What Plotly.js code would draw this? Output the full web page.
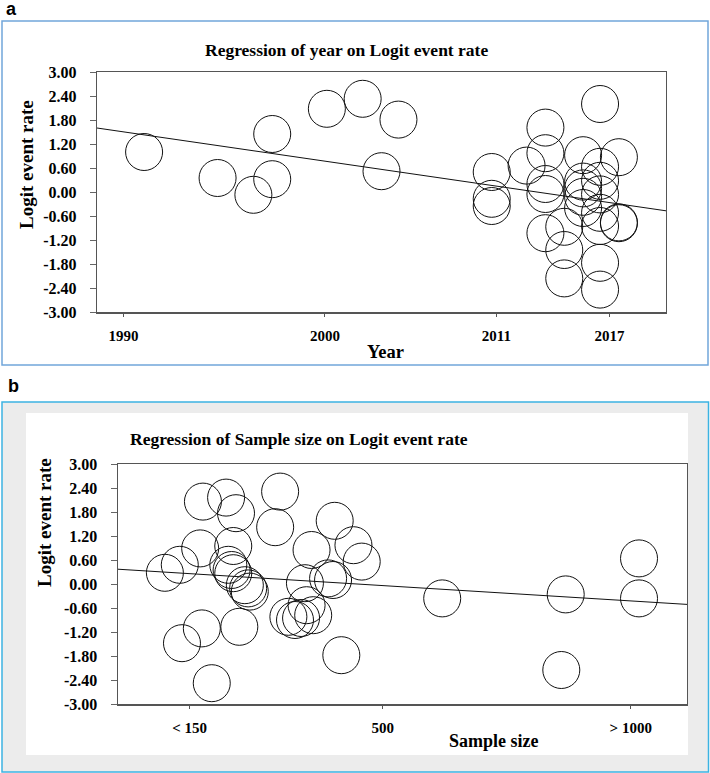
<!DOCTYPE html>
<html>
<head>
<meta charset="utf-8">
<script src="https://cdn.plot.ly/plotly-3.0.1.min.js"></script>
<style>html,body{margin:0;padding:0;background:#fff;}#chart{width:710px;height:773px;}</style>
</head>
<body>
<div id="chart"></div>
<script>
// ---- Panel a: year vs logit event rate ----
var yearA = [1992.3, 1996.2, 1998.1, 1999.1, 1999.1, 2002.0, 2003.9, 2005.8, 2004.9,
  2010.75, 2010.75, 2010.75,
  2012.6,
  2013.6, 2013.6, 2013.6, 2013.6, 2013.6,
  2014.6, 2014.6, 2014.6,
  2015.6, 2015.6, 2015.6, 2015.6, 2015.6,
  2016.5, 2016.5, 2016.5, 2016.5, 2016.5, 2016.5, 2016.5, 2016.5,
  2017.5, 2017.5, 2017.5];
var logitA = [1.0, 0.35, -0.07, 1.45, 0.32, 2.08, 2.33, 1.81, 0.52,
  0.5, -0.17, -0.35,
  0.66,
  1.61, 0.97, 0.2, -0.05, -1.03,
  -0.87, -1.45, -2.16,
  0.92, 0.26, 0.09, -0.12, -0.4,
  2.2, 0.63, 0.28, -0.06, -0.52, -0.85, -1.77, -2.44,
  0.87, -0.78, -0.76];
var regAx = [1989.8, 2020.0];
var regAy = [1.60, -0.47];
var xTickValsA = [1991.2, 2001.9, 2011, 2017];
var xTickTextA = ['1990', '2000', '2011', '2017'];

// ---- Panel b: sample size vs logit event rate ----
var sizeB = [105, 132, 169, 174, 216, 234, 229, 220, 226, 229, 250, 256, 259, 314, 305, 371, 413, 447, 462,
  359, 401, 410, 362, 329, 341, 352, 374, 240, 172, 136, 190, 425, 608, 832, 965, 965, 824];
var logitB = [0.28, 0.48, 0.89, 2.06, 2.16, 1.77, 0.95, 0.48, 0.35, 0.27, -0.03, -0.11, -0.19, 2.31, 1.42, 0.85, 1.58, 0.97, 0.56,
  0.02, 0.14, 0.1, -0.53, -0.82, -0.9, -0.85, -0.78, -1.07, -1.11, -1.48, -2.48, -1.78, -0.36, -0.26, 0.64, -0.36, -2.15];
var regBx = [19.4, 1052];
var regBy = [0.37, -0.51];
var xTickValsB = [150, 500, 950];
var xTickTextB = ['< 150', '500', '> 1000'];

// ---- shared y ticks ----
var yTickVals = [3, 2.4, 1.8, 1.2, 0.6, 0, -0.6, -1.2, -1.8, -2.4, -3];
var yTickText = ['3.00', '2.40', '1.80', '1.20', '0.60', '0.00', '-0.60', '-1.20', '-1.80', '-2.40', '-3.00'];

var W = 710, H = 773;
function px(x) { return x / W; }
function py(y) { return 1 - y / H; }

var serif = 'Liberation Serif, Times New Roman, serif';
var markerStyle = {symbol: 'circle-open', size: 37, color: '#111', line: {width: 1}};

var traces = [
  {x: yearA, y: logitA, type: 'scatter', mode: 'markers', marker: markerStyle, xaxis: 'x', yaxis: 'y', hoverinfo: 'x+y'},
  {x: regAx, y: regAy, type: 'scatter', mode: 'lines', line: {color: '#111', width: 1}, xaxis: 'x', yaxis: 'y'},
  {x: sizeB, y: logitB, type: 'scatter', mode: 'markers', marker: markerStyle, xaxis: 'x2', yaxis: 'y2', hoverinfo: 'x+y'},
  {x: regBx, y: regBy, type: 'scatter', mode: 'lines', line: {color: '#111', width: 1}, xaxis: 'x2', yaxis: 'y2'}
];

function xAxisCfg(domain, range, tv, tt, anchor) {
  return {domain: domain, range: range, anchor: anchor, tickmode: 'array', tickvals: tv, ticktext: tt,
    ticks: 'outside', ticklen: 3, tickcolor: '#555', showgrid: false, zeroline: false,
    showline: true, mirror: true, linecolor: '#555', linewidth: 1.5, ticklabelstandoff: 6,
    tickfont: {family: serif, size: 15, color: '#000', weight: 'bold'}, fixedrange: true};
}
function yAxisCfg(domain, anchor) {
  return {domain: domain, range: [-3, 3], anchor: anchor, tickmode: 'array', tickvals: yTickVals, ticktext: yTickText,
    ticks: 'outside', ticklen: 6, tickcolor: '#666', showgrid: false, zeroline: false,
    showline: true, mirror: true, linecolor: '#555', linewidth: 1.2, ticklabelstandoff: 10,
    tickfont: {family: serif, size: 16, color: '#000', weight: 'bold'}, fixedrange: true};
}

function ann(text, x, y, size, opts) {
  var a = {text: text, x: px(x), y: py(y), xref: 'paper', yref: 'paper', showarrow: false,
    xanchor: 'center', yanchor: 'middle',
    font: {family: serif, size: size, color: '#000', weight: 'bold'}};
  for (var k in (opts || {})) a[k] = opts[k];
  return a;
}
var sansBold = {family: 'Liberation Sans, Arial, sans-serif', size: 18, color: '#000', weight: 'bold'};

var layout = {
  width: W, height: H,
  margin: {l: 0, r: 0, t: 0, b: 0},
  paper_bgcolor: '#fff', plot_bgcolor: 'rgba(0,0,0,0)',
  showlegend: false,
  xaxis: xAxisCfg([px(97), px(666)], [1989.8, 2020.0], xTickValsA, xTickTextA, 'y'),
  yaxis: yAxisCfg([py(312), py(72)], 'x'),
  xaxis2: xAxisCfg([px(117.7), px(687)], [19.4, 1052], xTickValsB, xTickTextB, 'y2'),
  yaxis2: yAxisCfg([py(704), py(464)], 'x2'),
  shapes: [
    {type: 'rect', xref: 'paper', yref: 'paper', x0: px(2), x1: px(708), y0: py(365), y1: py(21),
      line: {color: '#72a6da', width: 1.5}, fillcolor: 'rgba(0,0,0,0)', layer: 'below'},
    {type: 'rect', xref: 'paper', yref: 'paper', x0: px(2), x1: px(708.5), y0: py(772), y1: py(402),
      line: {color: '#3cb3e2', width: 1.5}, fillcolor: '#ececec', layer: 'below'},
    {type: 'rect', xref: 'paper', yref: 'paper', x0: px(26), x1: px(688), y0: py(755), y1: py(413),
      line: {width: 0}, fillcolor: '#ffffff', layer: 'below'}
  ],
  annotations: [
    ann('a', 11, 9, 18, {font: sansBold}),
    ann('Regression of year on Logit event rate', 346, 50, 17.5),
    ann('Logit event rate', 27, 165, 19, {textangle: -90}),
    ann('Year', 385, 351.5, 18.5),
    ann('b', 13, 386, 18, {font: sansBold}),
    ann('Regression of Sample size on Logit event rate', 299, 438.5, 17.5),
    ann('Logit event rate', 44, 523, 19, {textangle: -90}),
    ann('Sample size', 494, 741, 18)
  ]
};

Plotly.newPlot('chart', traces, layout, {displayModeBar: false, staticPlot: true});
</script>
</body>
</html>
